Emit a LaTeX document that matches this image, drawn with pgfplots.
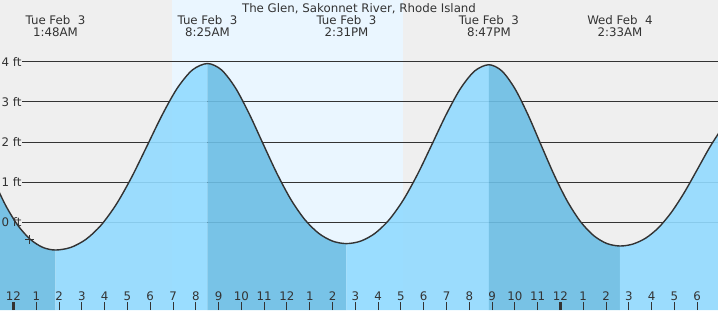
\documentclass[border=0pt]{standalone}
\usepackage{fontspec}
\setmainfont{DejaVu Sans}
\usepackage{pgfplots}
\usepackage{pgfplotstable}
\pgfplotsset{compat=1.18}
\usepgfplotslibrary{fillbetween}
\pgfplotsset{layers/mylayers/.define layer set={axis background,axis grid,pre main,main,axis ticks,axis lines,axis tick labels,axis descriptions,axis foreground}{
  grid style={/pgfplots/on layer=axis grid},
  tick style={/pgfplots/on layer=axis ticks},
  axis line style={/pgfplots/on layer=axis lines},
  label style={/pgfplots/on layer=axis descriptions},
  legend style={/pgfplots/on layer=axis descriptions},
  title style={/pgfplots/on layer=axis descriptions},
  colorbar style={/pgfplots/on layer=axis descriptions},
  ticklabel style={/pgfplots/on layer=axis tick labels},
  axis background@ style={/pgfplots/on layer=axis background},
  3d box foreground style={/pgfplots/on layer=axis foreground},
}}
\definecolor{bggrey}{RGB}{239,239,239}
\definecolor{dayblue}{RGB}{234,246,255}
\definecolor{water}{RGB}{146,219,255}
\definecolor{waterdark}{RGB}{108,190,229}
\definecolor{ink}{RGB}{51,51,51}
\newcommand{\lbl}{\fontsize{11.8bp}{13bp}\selectfont}
\pgfplotstableread{
t h
-0.907 1.096
-0.357 0.435
0.193 -0.077
0.743 -0.427
1.293 -0.626
1.843 -0.690
2.510 -0.626
3.177 -0.424
3.844 -0.070
4.511 0.449
5.178 1.117
5.844 1.884
6.511 2.660
7.178 3.334
7.845 3.792
8.512 3.955
9.122 3.798
9.732 3.355
10.341 2.705
10.951 1.955
11.561 1.215
12.171 0.569
12.781 0.069
13.390 -0.273
14.000 -0.468
14.610 -0.530
15.235 -0.468
15.860 -0.275
16.485 0.065
17.110 0.562
17.735 1.203
18.360 1.939
18.985 2.683
19.610 3.329
20.235 3.769
20.860 3.925
21.435 3.767
22.010 3.321
22.585 2.667
23.160 1.912
23.735 1.166
24.310 0.517
24.885 0.013
25.460 -0.332
26.035 -0.528
26.610 -0.590
27.175 -0.542
27.740 -0.394
28.305 -0.132
28.870 0.251
29.435 0.744
30.000 1.311
30.565 1.884
31.130 2.381
}\tide
\begin{document}
\begin{tikzpicture}
\begin{axis}[
  set layers=mylayers,
  scale only axis, width=718bp, height=310bp,
  xmin=-0.592, xmax=30.913, ymin=-2.184, ymax=5.537,
  axis background/.style={fill=bggrey},
  axis line style={draw=none},
  ytick=\empty,
  xtick={0,...,30},
  xticklabels={12,1,2,3,4,5,6,7,8,9,10,11,12,1,2,3,4,5,6,7,8,9,10,11,12,1,2,3,4,5,6},
  xtick pos=bottom,
  xtick align=inside,
  major tick length=8bp,
  tick style={ink, line width=1bp},
  xticklabel style={anchor=base, yshift=10bp, inner sep=0pt, font=\lbl, text=ink},
  extra x ticks={0,24},
  extra x tick labels={,},
  extra x tick style={tick style={ink, line width=3bp}},
]
% daylight band
\addplot[fill=dayblue, draw=none, on layer=axis grid] coordinates {(6.955,-2.184) (6.955,5.537) (17.09,5.537) (17.09,-2.184)} -- cycle;
% grid lines
\addplot[ink, line width=1bp, on layer=axis grid] coordinates {(0.373,0) (30.913,0)};
\addplot[ink, line width=1bp, on layer=axis grid] coordinates {(0.373,1) (30.913,1)};
\addplot[ink, line width=1bp, on layer=axis grid] coordinates {(0.373,2) (30.913,2)};
\addplot[ink, line width=1bp, on layer=axis grid] coordinates {(0.373,3) (30.913,3)};
\addplot[ink, line width=1bp, on layer=axis grid] coordinates {(0.373,4) (30.913,4)};
% tide curve path and bottom
\addplot[name path=tide, draw=none, smooth] table[x=t, y=h] {\tide};
\addplot[name path=bottom, draw=none] coordinates {(-1,-2.184) (32,-2.184)};
\addplot[fill=waterdark, fill opacity=0.9, draw=none] fill between[of=tide and bottom, soft clip={domain=-0.592:1.843}];
\addplot[fill=water, fill opacity=0.9, draw=none] fill between[of=tide and bottom, soft clip={domain=1.843:8.512}];
\addplot[fill=waterdark, fill opacity=0.9, draw=none] fill between[of=tide and bottom, soft clip={domain=8.512:14.61}];
\addplot[fill=water, fill opacity=0.9, draw=none] fill between[of=tide and bottom, soft clip={domain=14.61:20.86}];
\addplot[fill=waterdark, fill opacity=0.9, draw=none] fill between[of=tide and bottom, soft clip={domain=20.86:26.61}];
\addplot[fill=water, fill opacity=0.9, draw=none] fill between[of=tide and bottom, soft clip={domain=26.61:30.913}];
% curve outline
\addplot[ink, line width=1.4bp, smooth] table[x=t, y=h] {\tide};
% current time marker
\addplot[only marks, mark=+, mark size=4.5bp, ink, mark options={line width=1bp}] coordinates {(0.724,-0.44)};
% y labels
\node[anchor=base west, inner sep=0pt, font=\lbl, text=ink] at (axis cs:-0.53,3.893) {4 ft};
\node[anchor=base west, inner sep=0pt, font=\lbl, text=ink] at (axis cs:-0.53,2.893) {3 ft};
\node[anchor=base west, inner sep=0pt, font=\lbl, text=ink] at (axis cs:-0.53,1.893) {2 ft};
\node[anchor=base west, inner sep=0pt, font=\lbl, text=ink] at (axis cs:-0.53,0.893) {1 ft};
\node[anchor=base west, inner sep=0pt, font=\lbl, text=ink] at (axis cs:-0.53,-0.107) {0 ft};
% title
\node[anchor=base, inner sep=0pt, font=\lbl, text=ink] at (axis cs:15.16,5.226) {The Glen, Sakonnet River, Rhode Island};
% tide labels
\node[anchor=base, inner sep=0pt, font=\lbl, text=ink] at (axis cs:1.843,4.939) {Tue Feb\ \ 3};
\node[anchor=base, inner sep=0pt, font=\lbl, text=ink] at (axis cs:1.843,4.628) {1:48AM};
\node[anchor=base, inner sep=0pt, font=\lbl, text=ink] at (axis cs:8.512,4.939) {Tue Feb\ \ 3};
\node[anchor=base, inner sep=0pt, font=\lbl, text=ink] at (axis cs:8.512,4.628) {8:25AM};
\node[anchor=base, inner sep=0pt, font=\lbl, text=ink] at (axis cs:14.61,4.939) {Tue Feb\ \ 3};
\node[anchor=base, inner sep=0pt, font=\lbl, text=ink] at (axis cs:14.61,4.628) {2:31PM};
\node[anchor=base, inner sep=0pt, font=\lbl, text=ink] at (axis cs:20.86,4.939) {Tue Feb\ \ 3};
\node[anchor=base, inner sep=0pt, font=\lbl, text=ink] at (axis cs:20.86,4.628) {8:47PM};
\node[anchor=base, inner sep=0pt, font=\lbl, text=ink] at (axis cs:26.61,4.939) {Wed Feb\ \ 4};
\node[anchor=base, inner sep=0pt, font=\lbl, text=ink] at (axis cs:26.61,4.628) {2:33AM};
\end{axis}
\end{tikzpicture}
\end{document}
